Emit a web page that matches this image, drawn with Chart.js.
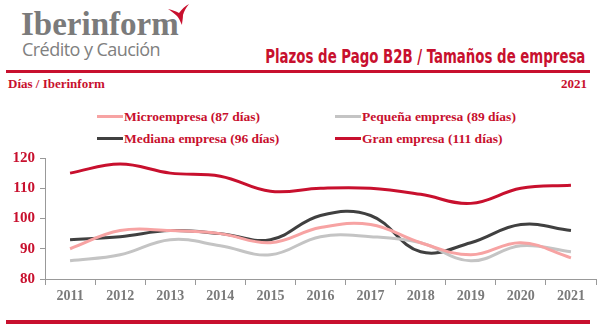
<!DOCTYPE html>
<html>
<head>
<meta charset="utf-8">
<script src="https://cdn.jsdelivr.net/npm/chart.js@4/dist/chart.umd.min.js"></script>
<style>
  html, body { margin: 0; padding: 0; background: #fff; }
  body { width: 598px; height: 330px; position: relative; overflow: hidden; }
  .abs { position: absolute; white-space: nowrap; }
  #brand { left: 21px; top: 6px; font: bold 33px "Liberation Serif", serif; color: #7b7b7b; }
  #sub { left: 22px; top: 36px; font: 19px "Open Sans", "DejaVu Sans", sans-serif; color: #808080; letter-spacing: -0.6px; transform: scaleX(0.95); transform-origin: left top; }
  #title { right: 13px; top: 45px; font: bold 19px "DejaVu Sans Condensed", "DejaVu Sans", sans-serif; color: #c8102e; transform: scaleX(0.78); transform-origin: right top; }
  .rule { position: absolute; left: 6px; width: 584px; height: 3px; background: #c8102e; }
  .red { color: #c8102e; font: bold 13px "Liberation Serif", serif; }
  #unit { left: 8px; top: 76px; }
  #year { right: 11px; top: 76px; }
  .lg { position: absolute; font: bold 13.5px "Liberation Serif", serif; color: #c8102e; white-space: nowrap; }
  .lg i { display: inline-block; width: 26px; height: 3px; vertical-align: middle; margin-right: 1px; position: relative; top: -1px; }
  #chartBox { position: absolute; left: 0; top: 144px; width: 598px; height: 166px; }
</style>
</head>
<body>
<div id="brand" class="abs">Iberinform</div>
<svg class="abs" style="left:160px;top:0" width="36" height="30" viewBox="0 0 36 30">
  <path d="M8 9 C12 10 16 11 19 13 C22 9 25 6 29 4 C26 8 24 11 23 15 C23 19 22 22 22 25 C20 21 19 18 17 16 C14 13 11 11 8 9 Z" fill="#c8102e"/>
</svg>
<div id="sub" class="abs">Crédito y Caución</div>
<div id="title" class="abs">Plazos de Pago B2B / Tamaños de empresa</div>
<div class="rule" style="top:70px"></div>
<div id="unit" class="abs red">Días / Iberinform</div>
<div id="year" class="abs red">2021</div>
<div id="legend"></div>
<div class="rule" style="top:320px;height:4px"></div>
<div id="chartBox"><canvas id="c"></canvas></div>
<script>
// Average payment terms (days) by company size
const years = ['2011','2012','2013','2014','2015','2016','2017','2018','2019','2020','2021'];
const micro    = [90, 96, 96, 95, 92, 97, 98, 92, 88, 92, 87];
const pequena  = [86, 88, 93, 91, 88, 94, 94, 92, 86, 91, 89];
const mediana  = [93, 94, 96, 95, 93, 101, 101, 89, 92, 98, 96];
const gran     = [115, 118, 115, 114, 109, 110, 110, 108, 105, 110, 111];
const yTicks   = [80, 90, 100, 110, 120];

const series = [
  { label: 'Microempresa (87 días)',    data: micro,   color: '#f7a3a3', lx: 97,  ly: 109 },
  { label: 'Pequeña empresa (89 días)', data: pequena, color: '#c4c4c4', lx: 335, ly: 109 },
  { label: 'Mediana empresa (96 días)', data: mediana, color: '#404040', lx: 97,  ly: 131 },
  { label: 'Gran empresa (111 días)',   data: gran,    color: '#c8102e', lx: 335, ly: 131 }
];

// HTML legend in two columns
const lg = document.getElementById('legend');
series.forEach(s => {
  const d = document.createElement('div');
  d.className = 'lg';
  d.style.left = s.lx + 'px';
  d.style.top = s.ly + 'px';
  d.innerHTML = '<i style="background:' + s.color + '"></i>' + s.label;
  lg.appendChild(d);
});

new Chart(document.getElementById('c'), {
  type: 'line',
  data: {
    labels: years,
    datasets: series.map(s => ({
      label: s.label,
      data: s.data,
      borderColor: s.color,
      backgroundColor: s.color,
      borderWidth: 3,
      pointRadius: 0,
      tension: 0.4,
      fill: false
    }))
  },
  options: {
    responsive: true,
    maintainAspectRatio: false,
    animation: false,
    events: [],
    layout: { padding: { top: 11, right: 2, left: 0, bottom: 0 } },
    plugins: { legend: { display: false }, tooltip: { enabled: false } },
    scales: {
      x: {
        offset: true,
        grid: { display: true, drawOnChartArea: false, drawTicks: true, tickLength: 6, color: '#999', offset: true },
        border: { display: true, color: '#999', width: 1 },
        ticks: { color: '#7a7a7a', padding: 3, font: { family: 'Liberation Serif', weight: 'bold', size: 14 } },
        afterFit: sc => { sc.height = 31; }
      },
      y: {
        min: 80, max: 120,
        afterBuildTicks: sc => { sc.ticks = yTicks.map(v => ({ value: v })); },
        grid: { display: true, drawOnChartArea: false, drawTicks: true, tickLength: 5, color: '#999' },
        border: { display: true, color: '#999', width: 1 },
        ticks: { color: '#c8102e', padding: 5, font: { family: 'Liberation Serif', weight: 'bold', size: 15 } },
        afterFit: sc => { sc.width = 45; }
      }
    }
  }
});
</script>
</body>
</html>
